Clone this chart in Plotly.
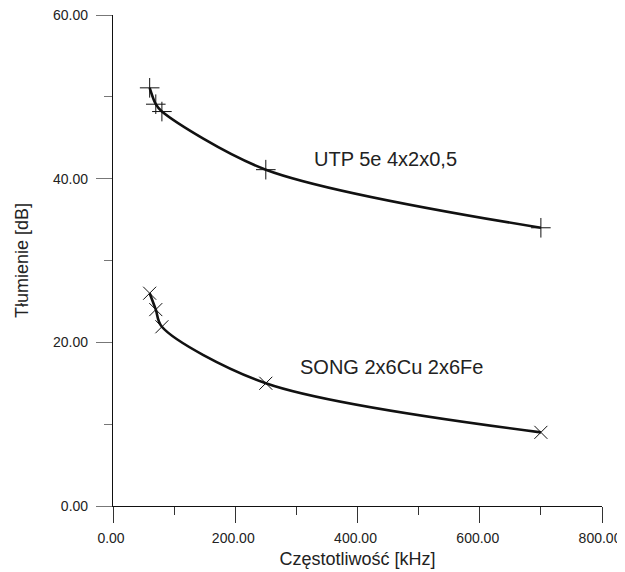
import plotly.graph_objects as go

freq_khz = [60, 70, 80, 250, 700]
utp_db = [51.1, 49.1, 48.2, 41.1, 34.0]
song_db = [26.0, 24.0, 21.9, 15.0, 9.0]

utp_label = "UTP 5e 4x2x0,5"
song_label = "SONG 2x6Cu 2x6Fe"
x_ticks = [0, 200, 400, 600, 800]
y_ticks = [0, 20, 40, 60]

FONT = "Arial, 'Liberation Sans', sans-serif"

fig = go.Figure()
fig.add_trace(go.Scatter(
    x=freq_khz, y=utp_db, mode="lines+markers", line=dict(color="#111", width=2.6, shape="spline", smoothing=0.9),
    marker=dict(symbol="cross-thin-open", size=14, color="#111", line=dict(width=1.0, color="#111")),
    showlegend=False, hoverinfo="skip"))
fig.add_trace(go.Scatter(
    x=freq_khz, y=song_db, mode="lines+markers", line=dict(color="#111", width=2.6, shape="spline", smoothing=0.9),
    marker=dict(symbol="x-thin-open", size=13, color="#111", line=dict(width=1.0, color="#111")),
    showlegend=False, hoverinfo="skip"))

fig.add_annotation(x=445, y=42.4, text=utp_label, showarrow=False,
                   font=dict(family=FONT, size=20, color="#222"))
fig.add_annotation(x=456, y=17.0, text=song_label, showarrow=False,
                   font=dict(family=FONT, size=20, color="#222"))

# page body adds an 8px offset, so the figure is sized to fill the rest of the window
fig.update_layout(
    width=617, height=564,
    margin=dict(l=105, r=23, t=7, b=66, pad=0),
    paper_bgcolor="white", plot_bgcolor="white",
    font=dict(family=FONT, color="#222"),
    xaxis=dict(
        range=[0, 800], tickvals=x_ticks, tickformat=".2f", automargin=False,
        showgrid=False, zeroline=False, showline=True, linecolor="#111", linewidth=1.2,
        ticks="outside", ticklen=16, tickwidth=1.2, tickcolor="#333", ticklabelstandoff=3,
        ticklabeloverflow="allow", ticklabelshift=-2,
        minor=dict(dtick=100, ticks="outside", ticklen=8, tickwidth=1.2, tickcolor="#333", showgrid=False),
        tickfont=dict(family=FONT, size=14, color="#222"),
        title=dict(text="Częstotliwość [kHz]", font=dict(family=FONT, size=18, color="#222"), standoff=7),
    ),
    yaxis=dict(
        range=[0, 60], tickvals=y_ticks, tickformat=".2f", automargin=False,
        showgrid=False, zeroline=False, showline=True, linecolor="#111", linewidth=1.2,
        ticks="outside", ticklen=16, tickwidth=1.2, tickcolor="#777", ticklabelstandoff=5,
        ticklabeloverflow="allow",
        minor=dict(dtick=10, ticks="outside", ticklen=8, tickwidth=1.2, tickcolor="#777", showgrid=False),
        tickfont=dict(family=FONT, size=14, color="#222"),
        title=dict(text="Tłumienie [dB]", font=dict(family=FONT, size=18, color="#222"), standoff=19),
    ),
)

fig.write_html("out.html")
